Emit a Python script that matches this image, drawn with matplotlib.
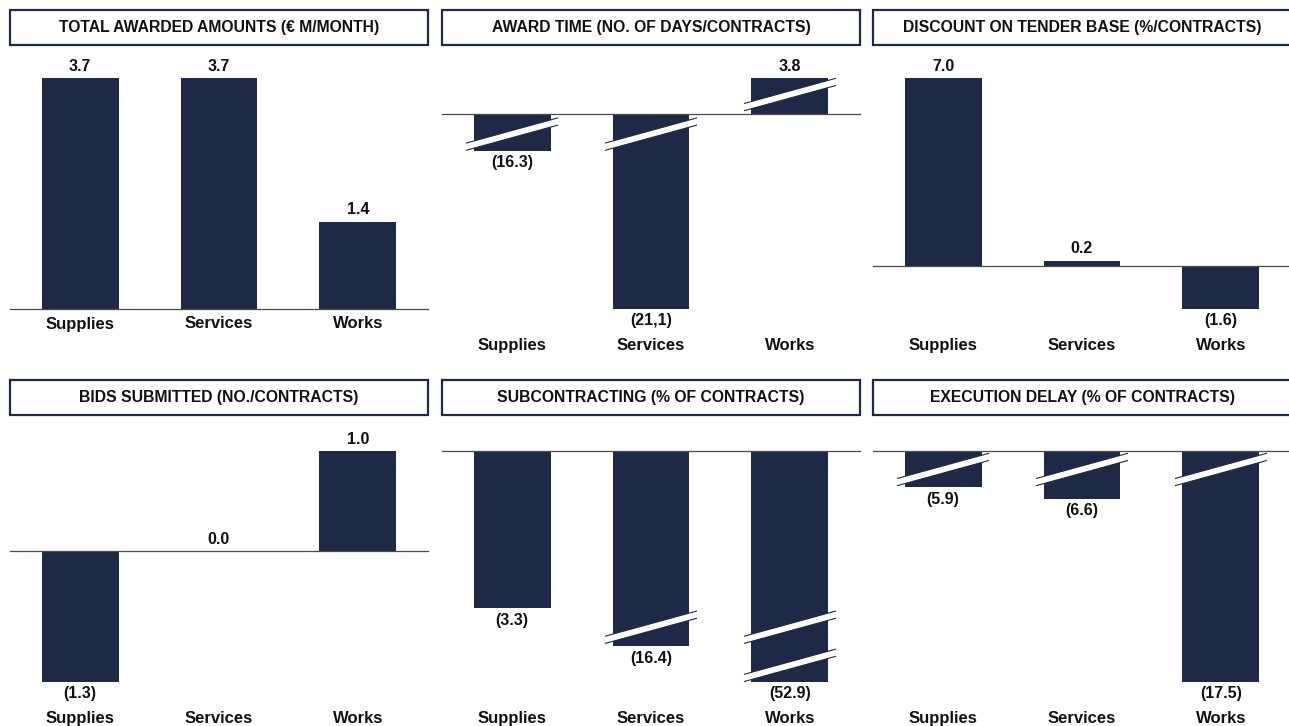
import matplotlib
matplotlib.use("Agg")
import matplotlib.pyplot as plt
from matplotlib.patches import Rectangle, Polygon
import numpy as np

# ---- data ----
categories = ["Supplies", "Services", "Works"]

awarded_amounts = [3.7, 3.7, 1.4]          # EUR M / month
award_time      = [-16.3, -21.1, 3.8]      # days / contract
tender_discount = [7.0, 0.2, -1.6]         # % / contract
bids_submitted  = [-1.3, 0.0, 1.0]         # no. / contract
subcontracting  = [-3.3, -16.4, -52.9]     # % of contracts
execution_delay = [-5.9, -6.6, -17.5]      # % of contracts

award_time_labels = ["(16.3)", "(21,1)", "3.8"]

NAVY = "#1E2A45"
INK = "#111111"
W, H = 1289, 726

plt.rcParams["font.family"] = ["Liberation Sans", "DejaVu Sans"]


def fmt(v):
    return f"({abs(v):.1f})" if v < 0 else f"{v:.1f}"


def broken_scale(segments):
    """Value->display mapping that only keeps the listed value ranges (broken axis)."""
    segs = sorted(segments)
    xs, ys, d = [], [], 0.0
    for lo, hi in segs:
        xs += [lo, hi]
        ys += [d, d + (hi - lo)]
        d += (hi - lo) + 1e-9
    xs, ys = np.array(xs), np.array(ys)
    fwd = lambda v: np.interp(v, xs, ys)
    inv = lambda v: np.interp(v, ys, xs)
    gaps = [(segs[i][1], segs[i + 1][0]) for i in range(len(segs) - 1)]
    return fwd, inv, gaps


def title_box(left_px, top_px, text):
    ax = fig.add_axes([left_px / W, 1 - (top_px + 35) / H, 418 / W, 35 / H])
    ax.set_axis_off()
    ax.add_patch(Rectangle((0, 0), 1, 1, transform=ax.transAxes, fc="white",
                           ec=NAVY, lw=1.6, clip_on=False))
    ax.text(0.5, 0.5, text, ha="center", va="center", fontsize=11.3,
            fontweight="bold", color=INK, transform=ax.transAxes)


def panel(left_px, top_px, title_top, title, values, segments, labels=None, cat_pad=26):
    title_box(left_px, title_top, title)
    ax = fig.add_axes([left_px / W, 1 - (top_px + 231) / H, 418 / W, 231 / H])
    fwd, inv, gaps = broken_scale(segments)
    ax.set_yscale("function", functions=(fwd, inv))
    ymin, ymax = min(min(values), 0), max(max(values), 0)
    ax.set_ylim(ymin, ymax)
    ax.set_xlim(-0.504, 2.504)
    x = np.arange(len(values))
    ax.bar(x, values, width=0.554, color=NAVY, zorder=2)
    ax.axhline(0, color="#4A4A4A", lw=0.9, zorder=3, clip_on=False)
    for s in ax.spines.values():
        s.set_visible(False)
    ax.set_xticks([]); ax.set_yticks([])
    ax.yaxis.set_minor_locator(matplotlib.ticker.NullLocator())

    if labels is None:
        labels = [fmt(v) for v in values]
    for i, v in enumerate(values):
        off = 8.6 if v >= 0 else -8.6
        ax.annotate(labels[i], (i, v), xytext=(0, off), textcoords="offset points",
                    ha="center", va="center", fontsize=11.5, fontweight="bold",
                    color=INK, annotation_clip=False)
        ax.annotate(categories[i], (i, 0), xycoords=ax.get_xaxis_transform(),
                    xytext=(0, -cat_pad), textcoords="offset points",
                    ha="center", va="center", fontsize=12, fontweight="bold",
                    color=INK, annotation_clip=False)

    # break markers where a bar crosses a gap of the axis
    span = fwd(ymax) - fwd(ymin)
    px = 1 / 231.0
    hx = 45.5 / 139.0
    tr = ax.get_xaxis_transform()
    for i, v in enumerate(values):
        lo, hi = min(v, 0), max(v, 0)
        for g_lo, g_hi in gaps:
            if lo <= g_lo and g_hi <= hi:
                yc = (fwd(g_lo) - fwd(ymin)) / span
                x0, x1 = i - hx, i + hx
                y0, y1 = yc - 12.5 * px, yc + 12.5 * px
                t = 3.6 * px
                ax.add_patch(Polygon([(x0, y0 - t), (x1, y1 - t), (x1, y1 + t), (x0, y0 + t)],
                                     closed=True, fc="white", ec="none",
                                     transform=tr, zorder=4, clip_on=False))
                for dy in (-t, t):
                    ax.plot([x0, x1], [y0 + dy, y1 + dy], color=NAVY, lw=0.8,
                            transform=tr, zorder=5, clip_on=False)
    return ax


fig = plt.figure(figsize=(W / 100, H / 100), dpi=100)
fig.patch.set_facecolor("white")

panel(10, 78, 10, "TOTAL AWARDED AMOUNTS (€ M/MONTH)", awarded_amounts,
      [(0, 3.7)], cat_pad=10.8)
panel(442, 78, 10, "AWARD TIME (NO. OF DAYS/CONTRACTS)", award_time,
      [(-21.1, -15.8), (-0.6, 0.6), (3.3, 3.8)], labels=award_time_labels)
panel(873, 78, 10, "DISCOUNT ON TENDER BASE (%/CONTRACTS)", tender_discount,
      [(-1.6, 7.0)])
panel(10, 451, 380, "BIDS SUBMITTED (NO./CONTRACTS)", bids_submitted,
      [(-1.3, 1.0)])
panel(442, 451, 380, "SUBCONTRACTING (% OF CONTRACTS)", subcontracting,
      [(-52.9, -52.55), (-16.8, -16.0), (-3.7, 0)])
panel(873, 451, 380, "EXECUTION DELAY (% OF CONTRACTS)", execution_delay,
      [(-17.5, -4.85), (-1.1, 0)])

fig.savefig("out.png", dpi=100, facecolor="white")
